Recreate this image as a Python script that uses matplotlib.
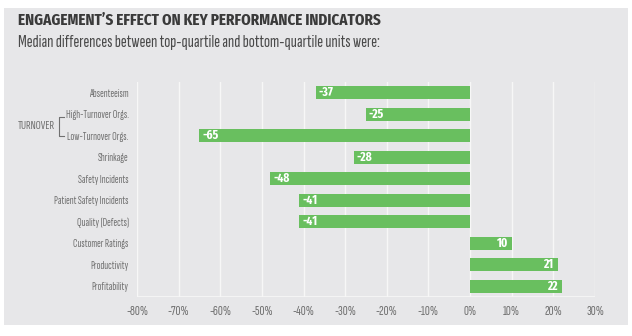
import matplotlib
matplotlib.use("Agg")
import matplotlib.pyplot as plt
from matplotlib.patches import Rectangle
from matplotlib.lines import Line2D

# Data
categories = ["Absenteeism", "High-Turnover Orgs.", "Low-Turnover Orgs.", "Shrinkage",
              "Safety Incidents", "Patient Safety Incidents", "Quality (Defects)",
              "Customer Ratings", "Productivity", "Profitability"]
values = [-37, -25, -65, -28, -48, -41, -41, 10, 21, 22]
x_ticks = [-80, -70, -60, -50, -40, -30, -20, -10, 0, 10, 20, 30]
x_tick_labels = [f"{t}%" for t in x_ticks]
title = "ENGAGEMENT\u2019S EFFECT ON KEY PERFORMANCE INDICATORS"
subtitle = "Median differences between top-quartile and bottom-quartile units were:"
group_label = "TURNOVER"

NARROW = ["Sofia Sans Extra Condensed", "Fira Sans Extra Condensed", "DejaVu Sans"]
BOLD = ["Fira Sans Extra Condensed", "Roboto Condensed", "DejaVu Sans"]
plt.rcParams["font.family"] = NARROW

BAR = "#69bf5f"
PANEL = "#e7e7e9"
GRID = "#f7f7f7"
LABEL = "#707070"

fig = plt.figure(figsize=(6.32, 3.36), dpi=100)
fig.patch.set_facecolor("white")
fig.patches.append(Rectangle((4 / 632, 1 - 325 / 336), 624 / 632, 317 / 336,
                             transform=fig.transFigure, facecolor=PANEL,
                             edgecolor="none", zorder=-5))

fig.text(18 / 632, 1 - 20 / 336, title, fontsize=11.8, fontweight="bold",
         color="#3a3a3a", va="center", ha="left", family=BOLD)
fig.text(18 / 632, 1 - 42 / 336, subtitle, fontsize=13, color="#4a4a4a",
         va="center", ha="left")

ax = fig.add_axes([137 / 632, 1 - 297 / 336, 458 / 632, 215 / 336])
ax.set_facecolor("none")
ax.set_xlim(-80, 30)
ax.set_ylim(len(categories) - 0.5, -0.5)

for t in x_ticks:
    ax.axvline(t, color=GRID, lw=1.0, zorder=1)
ax.axhline(len(categories) - 0.5, color=GRID, lw=1.2, zorder=1)

ypos = list(range(len(categories)))
ax.barh(ypos, values, height=0.6, color=BAR, zorder=2)

for y, v in zip(ypos, values):
    if v < 0:
        ax.annotate(f"{v}", (v, y), xytext=(2, 0), textcoords="offset points",
                    ha="left", va="center", color="white", fontsize=9,
                    fontweight="bold", family=BOLD, zorder=3)
    else:
        ax.annotate(f"{v}", (v, y), xytext=(-3, 0), textcoords="offset points",
                    ha="right", va="center", color="white", fontsize=9,
                    fontweight="bold", family=BOLD, zorder=3)

for s in ax.spines.values():
    s.set_visible(False)
ax.set_xticks(x_ticks)
ax.set_xticklabels(x_tick_labels)
ax.set_yticks(ypos)
ax.set_yticklabels(categories)
ax.tick_params(axis="y", length=0, colors=LABEL, labelsize=8.2, pad=6)
ax.tick_params(axis="x", length=0, colors=LABEL, labelsize=10, pad=6)

# group bracket for the two turnover rows
fig.text(18 / 632, 1 - 126 / 336, group_label, fontsize=9, color=LABEL,
         va="center", ha="left")
bx0, bx1 = 59 / 632, 64 / 632
by0, by1 = 1 - 117 / 336, 1 - 136 / 336
fig.add_artist(Line2D([bx1, bx0, bx0, bx1], [by0, by0, by1, by1],
                      transform=fig.transFigure, color=LABEL, lw=0.8))

fig.savefig("out.png", dpi=100, facecolor="white")
